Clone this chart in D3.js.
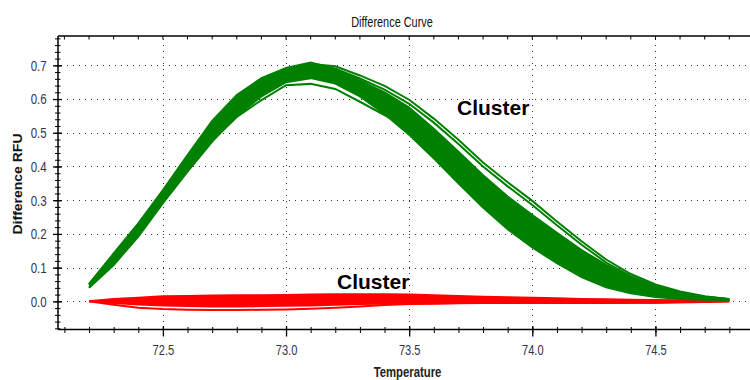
<!DOCTYPE html>
<html>
<head>
<meta charset="utf-8">
<script src="https://cdn.jsdelivr.net/npm/d3@7/dist/d3.min.js"></script>
<style>
  body { margin: 0; background: #fff; }
  svg { display: block; font-family: "Liberation Sans", Arial, sans-serif; }
</style>
</head>
<body>
<svg id="chart" width="750" height="380"></svg>
<script>
// melt temperatures, one reading every 0.1 degree
const temps = [72.2, 72.3, 72.4, 72.5, 72.6, 72.7, 72.8, 72.9, 73.0, 73.1, 73.2, 73.3, 73.4, 73.5,
  73.6, 73.7, 73.8, 73.9, 74.0, 74.1, 74.2, 74.3, 74.4, 74.5, 74.6, 74.7, 74.8];

// green cluster: edges of the main bundle
const greenUpper = [0.052, 0.142, 0.231, 0.330, 0.434, 0.535, 0.612, 0.662, 0.692, 0.708, 0.690, 0.655, 0.620, 0.575,
  0.512, 0.444, 0.374, 0.311, 0.256, 0.203, 0.152, 0.108, 0.071, 0.044, 0.026, 0.014, 0.007];
const greenLower = [0.040, 0.108, 0.192, 0.291, 0.385, 0.474, 0.550, 0.608, 0.650, 0.662, 0.646, 0.608, 0.556, 0.494,
  0.424, 0.350, 0.278, 0.214, 0.160, 0.113, 0.072, 0.042, 0.024, 0.013, 0.007, 0.005, 0.004];
// green curves that stand apart from the bundle
const greenHighA = [0.050, 0.138, 0.226, 0.322, 0.425, 0.526, 0.605, 0.657, 0.688, 0.704, 0.697, 0.670, 0.639, 0.598,
  0.542, 0.479, 0.412, 0.353, 0.298, 0.237, 0.178, 0.124, 0.081, 0.050, 0.029, 0.015, 0.006];
const greenHighB = [0.049, 0.136, 0.224, 0.320, 0.423, 0.522, 0.601, 0.653, 0.684, 0.699, 0.690, 0.661, 0.628, 0.586,
  0.530, 0.467, 0.400, 0.341, 0.286, 0.226, 0.168, 0.115, 0.075, 0.046, 0.026, 0.014, 0.006];
const greenLow = [0.041, 0.110, 0.195, 0.294, 0.388, 0.476, 0.547, 0.597, 0.641, 0.645, 0.630, 0.592, 0.552, 0.512,
  0.455, 0.393, 0.330, 0.270, 0.215, 0.165, 0.117, 0.077, 0.047, 0.028, 0.016, 0.009, 0.005];

// red cluster (flat, around zero)
const redUpper = [0.000, 0.007, 0.011, 0.015, 0.016, 0.017, 0.018, 0.018, 0.019, 0.020, 0.021, 0.021, 0.021, 0.020,
  0.018, 0.016, 0.014, 0.012, 0.011, 0.009, 0.007, 0.006, 0.005, 0.004, 0.003, 0.002, 0.000];
const redLower = [0.000, -0.005, -0.009, -0.012, -0.014, -0.015, -0.015, -0.014, -0.013, -0.012, -0.010, -0.008, -0.007, -0.006,
  -0.006, -0.005, -0.005, -0.005, -0.005, -0.005, -0.005, -0.005, -0.004, -0.004, -0.003, -0.002, 0.000];
const redLow = [0.000, -0.010, -0.019, -0.023, -0.025, -0.026, -0.026, -0.025, -0.024, -0.022, -0.019, -0.015, -0.011, -0.008,
  -0.007, -0.006, -0.005, -0.005, -0.005, -0.005, -0.005, -0.005, -0.004, -0.004, -0.003, -0.002, 0.000];

const yLabels = [0.0, 0.1, 0.2, 0.3, 0.4, 0.5, 0.6, 0.7];
const xLabels = [72.5, 73.0, 73.5, 74.0, 74.5];

const svg = d3.select('#chart');
const plotL = 58, plotR = 750, plotT = 36, plotB = 329.5;

const x = d3.scaleLinear().domain([72.074, 74.884]).range([plotL, plotR]);
const y = d3.scaleLinear().domain([-0.0835, 0.787]).range([plotB, plotT]);

const yMinor = d3.range(-8, 79, 2).map(d => d / 100);
const xMinor = d3.range(721, 749, 1).map(d => d / 10);

// dotted grid
const grid = svg.append('g')
  .attr('stroke', '#333')
  .attr('stroke-width', 1)
  .attr('stroke-dasharray', '1,5')
  .attr('shape-rendering', 'crispEdges');
grid.selectAll('.hgrid').data(yLabels).join('line')
  .attr('x1', plotL + 3).attr('x2', plotR)
  .attr('y1', d => Math.round(y(d)) + 0.5).attr('y2', d => Math.round(y(d)) + 0.5);
grid.selectAll('.vgrid').data(xLabels).join('line')
  .attr('y1', plotT + 3).attr('y2', plotB)
  .attr('x1', d => Math.round(x(d)) + 0.5).attr('x2', d => Math.round(x(d)) + 0.5);

const line = d3.line().x((d, i) => x(temps[i])).y(d => y(d));
const band = (hi, lo) => d3.area()
  .x((d, i) => x(temps[i]))
  .y0((d, i) => y(lo[i]))
  .y1(d => y(d))(hi);

// red cluster
const red = svg.append('g');
red.append('path').attr('d', band(redUpper, redLower)).attr('fill', '#ff0000');
[redUpper, redLower, redLow].forEach(s => {
  red.append('path').attr('d', line(s))
    .attr('fill', 'none').attr('stroke', '#ff0000').attr('stroke-width', 2);
});

// green cluster
const green = svg.append('g');
green.append('path').attr('d', band(greenUpper, greenLower)).attr('fill', '#008000');
[greenUpper, greenLower, greenLow, greenHighB, greenHighA].forEach(s => {
  green.append('path').attr('d', line(s))
    .attr('fill', 'none').attr('stroke', '#008000').attr('stroke-width', 2);
});

// frame
const frame = svg.append('g').attr('stroke', '#000').attr('stroke-width', 1.5);
frame.append('line').attr('x1', plotL).attr('x2', plotL).attr('y1', plotT).attr('y2', plotB);
frame.append('line').attr('x1', plotL).attr('x2', plotR).attr('y1', plotB).attr('y2', plotB);
frame.append('line').attr('x1', plotL).attr('x2', plotR).attr('y1', plotT).attr('y2', plotT);
svg.append('g').attr('stroke', '#000').attr('stroke-width', 1)
  .selectAll('line').data(xMinor).join('line')
  .attr('x1', d => x(d)).attr('x2', d => x(d))
  .attr('y1', plotT).attr('y2', plotT + 3.5);

// y axis
const yMinAxis = svg.append('g').attr('transform', `translate(${plotL},0)`)
  .call(d3.axisLeft(y).tickValues(yMinor).tickFormat('').tickSize(3));
yMinAxis.select('.domain').remove();
yMinAxis.selectAll('.tick line').attr('x1', 2.5).attr('stroke', '#000');

const yAxis = svg.append('g').attr('transform', `translate(${plotL},0)`)
  .call(d3.axisLeft(y).tickValues(yLabels).tickFormat(d3.format('.1f')).tickSize(5));
yAxis.select('.domain').remove();
yAxis.selectAll('.tick line').attr('x1', 4).attr('stroke', '#000').attr('stroke-width', 1.3);
yAxis.selectAll('.tick text')
  .attr('x', -14.7).attr('transform', 'scale(0.77,1)')
  .attr('font-size', 15).attr('fill', '#33334d')
  .attr('font-family', '"Liberation Sans", Arial, sans-serif');

// x axis
const xMinAxis = svg.append('g').attr('transform', `translate(0,${plotB})`)
  .call(d3.axisBottom(x).tickValues(xMinor).tickFormat('').tickSize(3.5));
xMinAxis.select('.domain').remove();
xMinAxis.selectAll('.tick line').attr('y1', -2.5).attr('stroke', '#000');

const xAxis = svg.append('g').attr('transform', `translate(0,${plotB})`)
  .call(d3.axisBottom(x).tickValues(xLabels).tickFormat(d3.format('.1f')).tickSize(7).tickPadding(8));
xAxis.select('.domain').remove();
xAxis.selectAll('.tick line').attr('y1', -3.5).attr('stroke', '#000').attr('stroke-width', 1.3);
xAxis.selectAll('.tick text')
  .attr('transform', 'scale(0.74,1)')
  .attr('font-size', 15).attr('fill', '#33334d')
  .attr('font-family', '"Liberation Sans", Arial, sans-serif');

// titles
svg.append('text')
  .attr('transform', 'translate(392,26.5) scale(0.78,1)')
  .attr('text-anchor', 'middle').attr('font-size', 14).attr('fill', '#111')
  .text('Difference Curve');

svg.append('text')
  .attr('transform', 'translate(21.5,184) rotate(-90) scale(1,0.9)')
  .attr('text-anchor', 'middle').attr('font-size', 14).attr('font-weight', 'bold').attr('fill', '#111')
  .text('Difference RFU');

svg.append('text')
  .attr('transform', 'translate(407.5,377) scale(0.81,1)')
  .attr('text-anchor', 'middle').attr('font-size', 14).attr('font-weight', 'bold').attr('fill', '#222')
  .text('Temperature');

// cluster labels
svg.append('text').attr('x', 457).attr('y', 115)
  .attr('font-size', 21).attr('font-weight', 'bold').attr('fill', '#000')
  .text('Cluster');
svg.append('text').attr('x', 337).attr('y', 289)
  .attr('font-size', 21).attr('font-weight', 'bold').attr('fill', '#000')
  .text('Cluster');
</script>
</body>
</html>
